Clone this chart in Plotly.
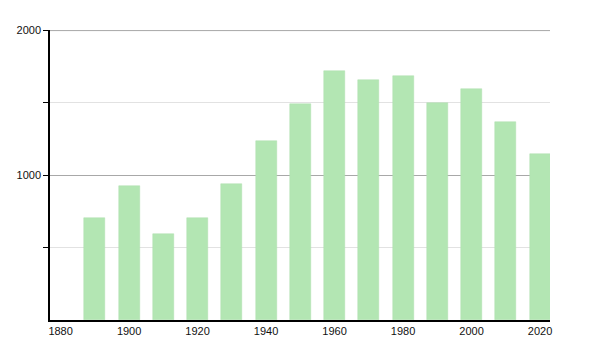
import plotly.graph_objects as go

years = [1890, 1900, 1910, 1920, 1930, 1940, 1950, 1960, 1970, 1980, 1990, 2000, 2010, 2020]
population = [704, 926, 594, 705, 940, 1237, 1495, 1721, 1659, 1686, 1497, 1594, 1371, 1147]
x_ticks = [1880, 1900, 1920, 1940, 1960, 1980, 2000, 2020]
y_ticks = [1000, 2000]
y_minor = [500, 1500]

fig = go.Figure()
fig.add_trace(go.Bar(
    x=years, y=population, width=6.1,
    marker=dict(color="#b3e6b3", line=dict(color="#aedfae", width=0.5)),
    hoverinfo="x+y",
))

fig.update_layout(
    width=600, height=350,
    margin=dict(l=50, r=50, t=30, b=30),
    paper_bgcolor="white", plot_bgcolor="white",
    font=dict(family="Liberation Sans, Arial, sans-serif", size=11, color="#111"),
    showlegend=False,
    bargap=0,
)
fig.update_xaxes(
    range=[1876.9, 2022.9], tickvals=x_ticks, ticktext=[str(t) for t in x_ticks],
    showline=True, linecolor="black", linewidth=1.5, showgrid=False,
    ticks="", zeroline=False, tickfont=dict(size=11),
)
fig.update_yaxes(
    range=[0, 2004], tickvals=y_ticks, ticktext=[str(t) for t in y_ticks],
    showline=True, linecolor="black", linewidth=1.5,
    ticks="outside", ticklen=5, tickcolor="black",
    showgrid=True, gridcolor="#a8a8a8", gridwidth=1, zeroline=False,
    minor=dict(tickvals=y_minor, ticks="outside", ticklen=5, tickcolor="black",
               showgrid=True, gridcolor="#e2e2e2", gridwidth=1),
    tickfont=dict(size=11),
)
fig.add_shape(type="line", xref="paper", yref="y", x0=0, x1=1,
              y0=y_ticks[-1], y1=y_ticks[-1], line=dict(color="#a8a8a8", width=1),
              layer="below")

fig.write_html("out.html")
